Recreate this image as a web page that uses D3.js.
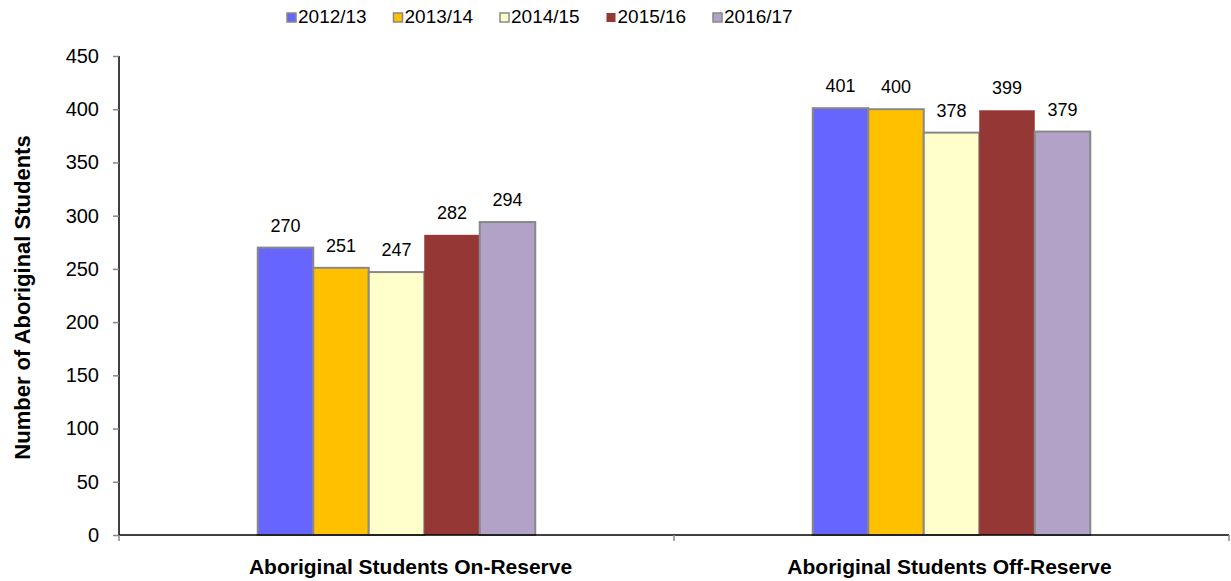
<!DOCTYPE html>
<html>
<head>
<meta charset="utf-8">
<script src="https://cdn.jsdelivr.net/npm/d3@7"></script>
<style>
  body { margin: 0; background: #fff; }
  text { font-family: "Liberation Sans", Arial, sans-serif; }
</style>
</head>
<body>
<div class="bar-graph"></div>
<script>
// data
var categories = ["Aboriginal Students On-Reserve", "Aboriginal Students Off-Reserve"];
var years = ["2012/13", "2013/14", "2014/15", "2015/16", "2016/17"];
var values2012 = [270, 401];
var values2013 = [251, 400];
var values2014 = [247, 378];
var values2015 = [282, 399];
var values2016 = [294, 379];
var yTicks = [0, 50, 100, 150, 200, 250, 300, 350, 400, 450];

var seriesValues = [values2012, values2013, values2014, values2015, values2016];
var colors = ["#6666FF", "#FFC000", "#FFFFCC", "#953735", "#B3A2C7"];
var strokes = ["#888", "#888", "#888", "none", "#888"];

//margins
var margin = {top: 56, right: 2, bottom: 46, left: 119},
    width = 1231 - margin.left - margin.right,
    height = 581 - margin.top - margin.bottom;

var svg = d3.select(".bar-graph").append("svg")
    .attr("width", 1231)
    .attr("height", 581)
    .append("g")
    .attr("transform", "translate(" + margin.left + "," + margin.top + ")");

// scales
var x0 = d3.scaleBand().domain(categories).range([0, width]).paddingInner(0).paddingOuter(0);
var x1 = d3.scaleBand().domain(years).range([x0.bandwidth() * 0.25, x0.bandwidth() * 0.75]).padding(0);
var y = d3.scaleLinear().domain([0, 450]).range([height, 0]);

var data = [];
categories.forEach(function (c, ci) {
    years.forEach(function (yr, si) {
        data.push({cat: c, year: yr, value: seriesValues[si][ci], color: colors[si], stroke: strokes[si]});
    });
});

// bars
svg.selectAll(".bar")
    .data(data)
    .enter().append("rect")
    .attr("class", "bar")
    .attr("x", function (d) { return x0(d.cat) + x1(d.year); })
    .attr("width", x1.bandwidth())
    .attr("y", function (d) { return y(d.value); })
    .attr("height", function (d) { return height - y(d.value); })
    .style("fill", function (d) { return d.color; })
    .style("stroke", function (d) { return d.stroke; })
    .style("stroke-width", 2);

// value labels
svg.selectAll(".val")
    .data(data)
    .enter().append("text")
    .attr("class", "val")
    .attr("x", function (d) { return x0(d.cat) + x1(d.year) + x1.bandwidth() / 2; })
    .attr("y", function (d) { return y(d.value) - 16; })
    .attr("text-anchor", "middle")
    .style("font-size", "18px")
    .text(function (d) { return d.value; });

// y axis
var yAxis = svg.append("g")
    .call(d3.axisLeft(y).tickValues(yTicks).tickSize(6).tickPadding(14));
yAxis.select(".domain").attr("stroke", "#000").attr("stroke-width", 1.5).attr("d", "M0," + height + "V0");
yAxis.selectAll(".tick line").attr("stroke", "#888").attr("stroke-width", 1.5);
yAxis.selectAll(".tick text").style("font-size", "20px").attr("fill", "#000")
    .style("font-family", "Liberation Sans, Arial, sans-serif");

// x axis
var xAxis = svg.append("g")
    .attr("transform", "translate(0," + height + ")")
    .call(d3.axisBottom(x0).tickSize(0).tickPadding(24));
xAxis.select(".domain").attr("stroke", "#000").attr("stroke-width", 1.5).attr("d", "M0,0H" + width);
xAxis.selectAll(".tick text").style("font-size", "21px").style("font-weight", "bold").attr("fill", "#000")
    .style("font-family", "Liberation Sans, Arial, sans-serif")
    .attr("dx", function (d, i) { return i === 0 ? 14 : -2; });

// x tick marks at band edges
svg.selectAll(".xtick")
    .data([0, x0.bandwidth(), width])
    .enter().append("line")
    .attr("x1", function (d) { return d; })
    .attr("x2", function (d) { return d; })
    .attr("y1", height)
    .attr("y2", height + 6)
    .attr("stroke", "#888")
    .attr("stroke-width", 1.5);

// y axis title
svg.append("text")
    .attr("transform", "translate(" + (-89) + "," + (height / 2 + 2) + ") rotate(-90)")
    .attr("text-anchor", "middle")
    .style("font-size", "22px")
    .style("font-weight", "bold")
    .text("Number of Aboriginal Students");

// legend
var legend = svg.selectAll(".legend")
    .data(years)
    .enter().append("g")
    .attr("class", "legend")
    .attr("transform", function (d, i) { return "translate(" + (287 - margin.left + i * 106.5) + "," + (-56) + ")"; });
legend.append("rect")
    .attr("x", 0)
    .attr("y", 13)
    .attr("width", 9)
    .attr("height", 9)
    .style("fill", function (d, i) { return colors[i]; })
    .style("stroke", function (d, i) { return strokes[i]; })
    .style("stroke-width", 1.5);
legend.append("text")
    .attr("x", 11)
    .attr("y", 18)
    .attr("dominant-baseline", "middle")
    .style("font-size", "19px")
    .text(function (d) { return d; });
</script>
</body>
</html>
